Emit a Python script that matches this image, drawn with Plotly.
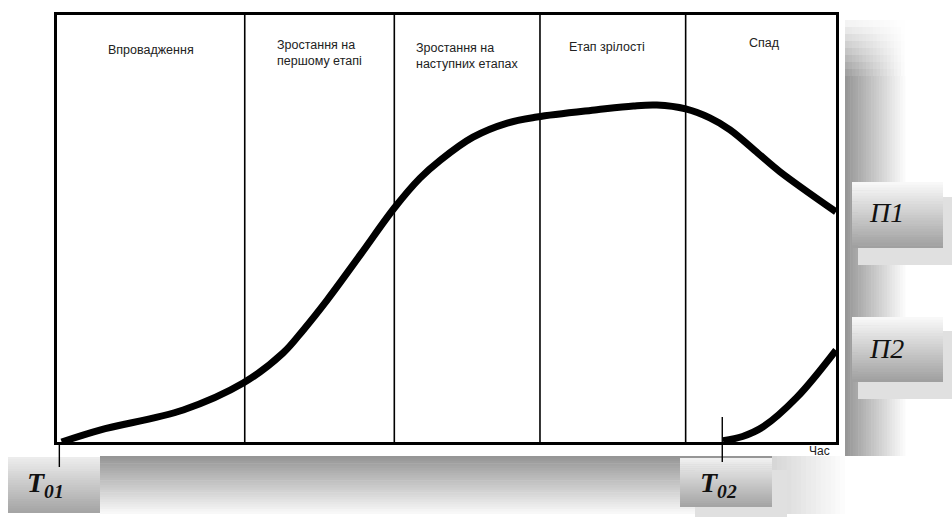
import plotly.graph_objects as go

W, H = 952, 517

# ---------------- data ----------------
stage_labels = ["Впровадження", "Зростання на<br>першому етапі",
                "Зростання на<br>наступних етапах", "Етап зрілості", "Спад"]
stage_bounds = [0, 24.1, 43.3, 62.0, 80.7, 100]

p1_t = [0.6, 5.5, 16.2, 23.9, 29.0, 31.6, 34.7, 39.0, 43.3, 46.6, 49.2, 53.4, 57.8, 61.6,
        69.3, 74.0, 77.0, 80.7, 83.8, 86.4, 90.0, 92.8, 100.0]
p1_s = [0.0, 2.8, 7.5, 13.8, 20.8, 26.2, 33.3, 44.0, 54.8, 61.8, 66.0, 71.4, 74.7, 76.1,
        77.8, 78.7, 78.9, 78.0, 75.9, 73.1, 67.6, 63.3, 53.9]

p2_t = [85.5, 88.0, 90.6, 95.0, 100.0]
p2_s = [0.3, 1.3, 3.5, 10.5, 21.5]

t02 = 85.4  # start of product 2

# ---------------- layout helpers ----------------
FX0, FX1, FY0, FY1 = 57, 836, 15, 442   # frame in pixels


def X(px):
    return px / W


def Y(py):
    return 1 - py / H


def lerp(c0, c1, f):
    return "rgb(%d,%d,%d)" % tuple(round(a + (b - a) * f) for a, b in zip(c0, c1))


shapes = []


def vgrad(x0, x1, y0, y1, c_top, c_bot, n=24):
    h = (y1 - y0) / n
    for i in range(n):
        f = i / (n - 1)
        shapes.append(dict(type="rect", xref="paper", yref="paper",
                           x0=X(x0), x1=X(x1), y0=Y(y0 + i * h), y1=Y(min(y1, y0 + (i + 1) * h + 0.6)),
                           fillcolor=lerp(c_top, c_bot, f), line=dict(width=0), layer="below"))


def hgrad(x0, x1, y0, y1, c_left, c_right, n=24):
    w = (x1 - x0) / n
    for i in range(n):
        f = i / (n - 1)
        shapes.append(dict(type="rect", xref="paper", yref="paper",
                           x0=X(x0 + i * w), x1=X(min(x1, x0 + (i + 1) * w + 0.6)), y0=Y(y0), y1=Y(y1),
                           fillcolor=lerp(c_left, c_right, f), line=dict(width=0), layer="below"))


def rect(x0, x1, y0, y1, color):
    shapes.append(dict(type="rect", xref="paper", yref="paper",
                       x0=X(x0), x1=X(x1), y0=Y(y0), y1=Y(y1),
                       fillcolor=color, line=dict(width=0), layer="below"))


WHITE = (255, 255, 255)
# right panel shadow: horizontal fade, faded in at the top
top_rows = 8
for k in range(top_rows):
    a = (k + 1) / (top_rows + 1)
    g = round(255 - (255 - 150) * a)
    hgrad(845, 908, 20 + k * 7, 20 + (k + 1) * 7 + 0.6, (g, g, g), WHITE, n=18)
hgrad(845, 908, 76, 456, (150, 150, 150), WHITE)
# bottom panel shadow
vgrad(100, 790, 456, 514, (150, 150, 150), (248, 248, 248))
hgrad(772, 850, 456, 514, (215, 215, 215), WHITE, n=16)
# label boxes (shadow + box)
rect(858, 952, 197, 265, "rgb(224,224,224)")
vgrad(852, 943, 182, 248, (248, 248, 248), (160, 160, 160))
rect(858, 952, 331, 399, "rgb(224,224,224)")
vgrad(852, 943, 317, 382, (248, 248, 248), (160, 160, 160))
vgrad(8, 100, 457, 513, (236, 236, 236), (165, 165, 165))
rect(695, 787, 470, 517, "rgb(224,224,224)")
vgrad(680, 772, 458, 507, (240, 240, 240), (165, 165, 165))

# stage dividers
for b in stage_bounds[1:-1]:
    shapes.append(dict(type="line", xref="x", yref="y domain", x0=b, x1=b, y0=0, y1=1,
                       line=dict(color="black", width=1.6)))

# T markers
shapes.append(dict(type="line", xref="x", yref="paper", x0=p1_t[0] - 0.3, x1=p1_t[0] - 0.3,
                   y0=Y(443), y1=Y(467), line=dict(color="black", width=1.4)))
shapes.append(dict(type="line", xref="x", yref="paper", x0=t02, x1=t02,
                   y0=Y(417), y1=Y(462), line=dict(color="black", width=1.4)))

fig = go.Figure()
fig.add_trace(go.Scatter(x=p1_t, y=p1_s, mode="lines",
                         line=dict(color="black", width=7, shape="spline", smoothing=1.0),
                         hoverinfo="skip", showlegend=False))
fig.add_trace(go.Scatter(x=p2_t, y=p2_s, mode="lines",
                         line=dict(color="black", width=7, shape="spline", smoothing=1.0),
                         hoverinfo="skip", showlegend=False))

annotations = []
label_y_px = [50, 53, 56, 47, 43]
label_dx = [0, 0, 0, -6, 4]
for i, lab_text in enumerate(stage_labels):
    mid = (stage_bounds[i] + stage_bounds[i + 1]) / 2
    annotations.append(dict(x=mid, xref="x", xshift=label_dx[i], y=Y(label_y_px[i]), yref="paper",
                            xanchor="center", yanchor="middle",
                            text=lab_text, showarrow=False, align="left",
                            font=dict(family="Liberation Sans, Arial", size=12.5, color="#222")))

serif = "Liberation Serif, Times New Roman"


def lab(px, py, text, size, family, color="#111"):
    return dict(x=X(px), y=Y(py), xref="paper", yref="paper", text=text, showarrow=False,
                xanchor="center", yanchor="middle", font=dict(family=family, size=size, color=color))


annotations += [
    lab(819, 451, "Час", 12, "Liberation Sans, Arial", "#222"),
    lab(886, 212, "<i>П1</i>", 28, serif),
    lab(886, 348, "<i>П2</i>", 28, serif),
    lab(45, 484, "<b><i>T<sub>01</sub></i></b>", 28, serif),
    lab(718, 484, "<b><i>T<sub>02</sub></i></b>", 28, serif),
]

axis_common = dict(showgrid=False, zeroline=False, showticklabels=False, ticks="",
                   showline=True, mirror=True, linecolor="black", linewidth=2.5, fixedrange=True)
fig.update_layout(
    width=W, height=H, margin=dict(l=0, r=0, t=0, b=0),
    paper_bgcolor="white", plot_bgcolor="white",
    xaxis=dict(range=[0, 100], domain=[X(FX0), X(FX1)], **axis_common),
    yaxis=dict(range=[0, 100], domain=[Y(FY1), Y(FY0)], **axis_common),
    shapes=shapes, annotations=annotations, showlegend=False,
)
fig.write_html("out.html", config={"displayModeBar": False},
               post_script="document.body.style.margin='0';document.body.style.overflow='hidden';")
